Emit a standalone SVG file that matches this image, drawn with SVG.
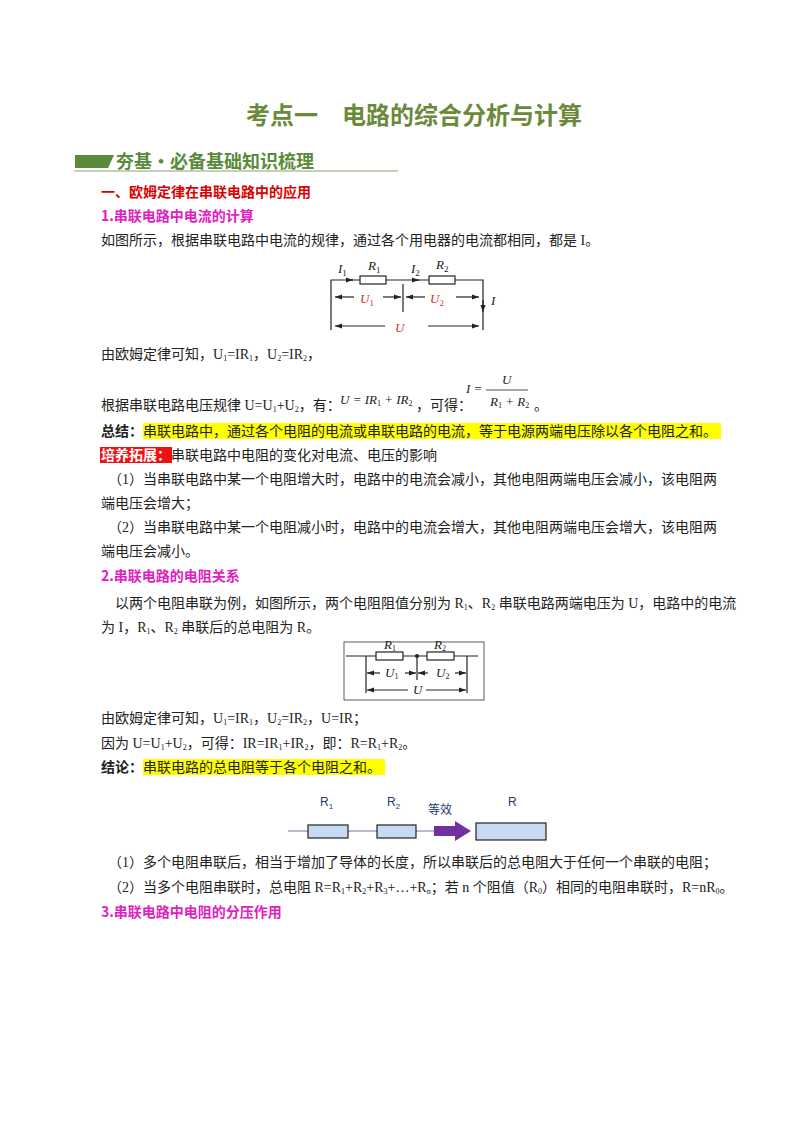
<svg xmlns="http://www.w3.org/2000/svg" width="800" height="1132" viewBox="0 0 800 1132">
<style>
.b{font-family:"Liberation Serif","Noto Sans CJK SC",serif;font-size:14px;fill:#222}
.h{font-family:"Noto Sans CJK SC",sans-serif;font-weight:bold;font-size:14px}
.i{font-family:"Liberation Serif",serif;font-style:italic;font-size:13px;fill:#222}
.w{stroke:#222;stroke-width:1.2;fill:none}
.s{font-family:"Liberation Sans","Noto Sans CJK SC",sans-serif;font-size:12px;fill:#1f3b73}
</style>
<defs>
<marker id="a" markerWidth="6" markerHeight="6" refX="6" refY="3" orient="auto"><path d="M0,0.8L6,3L0,5.2z" fill="#222"/></marker>
</defs>
<rect width="800" height="1132" fill="#fff"/>
<text x="414" y="124" text-anchor="middle" font-family="Noto Sans CJK SC,sans-serif" font-weight="bold" font-size="24" fill="#6a8a3a">考点一　电路的综合分析与计算</text>
<path d="M75,168L108,168L114,155L75,155z" fill="#5a8a3a"/>
<text x="116" y="168" font-family="Noto Sans CJK SC,serif" font-weight="bold" font-size="18" fill="#5a8a3a">夯基·必备基础知识梳理</text>
<line x1="74" y1="171" x2="398" y2="171" stroke="#8aa070" stroke-width="1"/>
<text x="101" y="197" class="h" fill="#d00">一、欧姆定律在串联电路中的应用</text>
<text x="101" y="221" class="h" fill="#e020c0">1.串联电路中电流的计算</text>
<text x="101" y="245" class="b">如图所示，根据串联电路中电流的规律，通过各个用电器的电流都相同，都是 I。</text>
<g id="circuit1">
<path class="w" d="M331,330V280H360M386,280H429M455,280H483V330"/>
<rect x="360" y="276" width="26" height="8" class="w"/>
<rect x="429" y="276" width="26" height="8" class="w"/>
<line x1="403" y1="284" x2="403" y2="312" class="w"/>
<g class="w" marker-end="url(#a)"><line x1="354" y1="297" x2="335" y2="297"/><line x1="383" y1="297" x2="401" y2="297"/><line x1="425" y1="297" x2="406" y2="297"/><line x1="456" y1="297" x2="479" y2="297"/><line x1="385" y1="326" x2="335" y2="326"/><line x1="428" y1="326" x2="479" y2="326"/><line x1="350" y1="280" x2="353" y2="280"/><line x1="416" y1="280" x2="419" y2="280"/><line x1="483" y1="300" x2="483" y2="312"/></g>
<text x="338" y="273" class="i">I<tspan font-size="9" dy="3" font-style="normal">1</tspan></text>
<text x="368" y="270" class="i">R<tspan font-size="9" dy="3" font-style="normal">1</tspan></text>
<text x="411" y="273" class="i">I<tspan font-size="9" dy="3" font-style="normal">2</tspan></text>
<text x="436" y="269" class="i">R<tspan font-size="9" dy="3" font-style="normal">2</tspan></text>
<text x="360" y="303" class="i" style="fill:#d03030" font-size="15">U<tspan font-size="9" dy="3" font-style="normal">1</tspan></text>
<text x="430" y="303" class="i" style="fill:#d03030" font-size="15">U<tspan font-size="9" dy="3" font-style="normal">2</tspan></text>
<text x="491" y="305" class="i" font-size="14">I</text>
<text x="395" y="332" class="i" style="fill:#d03030" font-size="15">U</text>
</g>
<text x="101" y="359" class="b">由欧姆定律可知，U<tspan font-size="8" dy="2">1</tspan><tspan dy="-2">=IR</tspan><tspan font-size="8" dy="2">1</tspan><tspan dy="-2">，U</tspan><tspan font-size="8" dy="2">2</tspan><tspan dy="-2">=IR</tspan><tspan font-size="8" dy="2">2</tspan><tspan dy="-2">，</tspan></text>
<text x="101" y="410" class="b">根据串联电路电压规律 U=U<tspan font-size="8" dy="2">1</tspan><tspan dy="-2">+U</tspan><tspan font-size="8" dy="2">2</tspan><tspan dy="-2">，有：</tspan></text>
<text x="340" y="404" class="i" font-size="12">U = IR<tspan font-size="8" dy="2" font-style="normal">1</tspan><tspan dy="-2"> + IR</tspan><tspan font-size="8" dy="2" font-style="normal">2</tspan></text>
<text x="416" y="410" class="b">，可得：</text>
<text x="466" y="393" class="i" font-size="12">I =</text>
<line x1="486" y1="390" x2="528" y2="390" stroke="#222" stroke-width="0.8"/>
<text x="502" y="384" class="i" font-size="12">U</text>
<text x="490" y="406" class="i" font-size="12">R<tspan font-size="8" dy="2" font-style="normal">1</tspan><tspan dy="-2"> + R</tspan><tspan font-size="8" dy="2" font-style="normal">2</tspan></text>
<text x="534" y="410" class="b">。</text>
<rect x="143" y="423" width="578" height="16" fill="#ffff00"/>
<text x="101" y="436" class="b"><tspan font-weight="bold">总结：</tspan>串联电路中，通过各个电阻的电流或串联电路的电流，等于电源两端电压除以各个电阻之和。</text>
<rect x="100" y="447" width="72" height="16" fill="#ee1111"/>
<text x="101" y="460" class="b"><tspan fill="#fff" font-weight="bold">培养拓展：</tspan>串联电路中电阻的变化对电流、电压的影响</text>
<text x="108" y="484" class="b">（1）当串联电路中某一个电阻增大时，电路中的电流会减小，其他电阻两端电压会减小，该电阻两</text>
<text x="101" y="508" class="b">端电压会增大；</text>
<text x="108" y="532" class="b">（2）当串联电路中某一个电阻减小时，电路中的电流会增大，其他电阻两端电压会增大，该电阻两</text>
<text x="101" y="556" class="b">端电压会减小。</text>
<text x="101" y="581" class="h" fill="#e020c0">2.串联电路的电阻关系</text>
<text x="115" y="608" class="b">以两个电阻串联为例，如图所示，两个电阻阻值分别为 R<tspan font-size="8" dy="2">1</tspan><tspan dy="-2">、R</tspan><tspan font-size="8" dy="2">2</tspan><tspan dy="-2"> 串联电路两端电压为 U，电路中的电流</tspan></text>
<text x="101" y="632" class="b">为 I，R<tspan font-size="8" dy="2">1</tspan><tspan dy="-2">、R</tspan><tspan font-size="8" dy="2">2</tspan><tspan dy="-2"> 串联后的总电阻为 R。</tspan></text>
<g id="circuit2">
<rect x="344" y="642" width="140" height="58" fill="none" stroke="#333" stroke-width="0.8"/>
<path class="w" d="M346,656H376M403,656H427M454,656H478M366,656V693M467,656V693M417,656V680"/>
<rect x="376" y="652" width="27" height="8" class="w"/>
<rect x="427" y="652" width="27" height="8" class="w"/>
<circle cx="417" cy="656" r="2" fill="#222"/>
<g class="w" marker-end="url(#a)"><line x1="380" y1="673" x2="367" y2="673"/><line x1="405" y1="673" x2="416" y2="673"/><line x1="428" y1="673" x2="418" y2="673"/><line x1="455" y1="673" x2="466" y2="673"/><line x1="408" y1="690" x2="367" y2="690"/><line x1="426" y1="690" x2="466" y2="690"/></g>
<text x="384" y="649" class="i" font-size="11">R<tspan font-size="8" dy="2" font-style="normal">1</tspan></text>
<text x="434" y="649" class="i" font-size="11">R<tspan font-size="8" dy="2" font-style="normal">2</tspan></text>
<text x="385" y="677" class="i" font-size="11">U<tspan font-size="8" dy="2" font-style="normal">1</tspan></text>
<text x="436" y="677" class="i" font-size="11">U<tspan font-size="8" dy="2" font-style="normal">2</tspan></text>
<text x="413" y="694" class="i" font-size="11">U</text>
</g>
<text x="101" y="723" class="b">由欧姆定律可知，U<tspan font-size="8" dy="2">1</tspan><tspan dy="-2">=IR</tspan><tspan font-size="8" dy="2">1</tspan><tspan dy="-2">，U</tspan><tspan font-size="8" dy="2">2</tspan><tspan dy="-2">=IR</tspan><tspan font-size="8" dy="2">2</tspan><tspan dy="-2">，U=IR；</tspan></text>
<text x="101" y="748" class="b">因为 U=U<tspan font-size="8" dy="2">1</tspan><tspan dy="-2">+U</tspan><tspan font-size="8" dy="2">2</tspan><tspan dy="-2">，可得：IR=IR</tspan><tspan font-size="8" dy="2">1</tspan><tspan dy="-2">+IR</tspan><tspan font-size="8" dy="2">2</tspan><tspan dy="-2">，即：R=R</tspan><tspan font-size="8" dy="2">1</tspan><tspan dy="-2">+R</tspan><tspan font-size="8" dy="2">2</tspan><tspan dy="-2">。</tspan></text>
<rect x="143" y="759" width="242" height="16" fill="#ffff00"/>
<text x="101" y="772" class="b"><tspan font-weight="bold">结论：</tspan>串联电路的总电阻等于各个电阻之和。</text>
<g id="equiv">
<line x1="288" y1="831" x2="441" y2="831" stroke="#6a7a9a" stroke-width="1"/>
<rect x="308" y="825" width="40" height="13" fill="#c8daf2" stroke="#222" stroke-width="1.2"/>
<rect x="377" y="825" width="39" height="13" fill="#c8daf2" stroke="#222" stroke-width="1.2"/>
<path d="M434,826H455V821L471,831L455,841V836H434z" fill="#7030a0"/>
<rect x="476" y="823" width="70" height="17" fill="#c8daf2" stroke="#222" stroke-width="1.2"/>
<text x="320" y="806" class="s">R<tspan font-size="8" dy="3">1</tspan></text>
<text x="387" y="806" class="s">R<tspan font-size="8" dy="3">2</tspan></text>
<text x="428" y="814" font-family="Noto Sans CJK SC,sans-serif" font-size="12" fill="#1f3b73">等效</text>
<text x="508" y="806" class="s">R</text>
</g>
<text x="108" y="867" class="b">（1）多个电阻串联后，相当于增加了导体的长度，所以串联后的总电阻大于任何一个串联的电阻；</text>
<text x="108" y="892" class="b">（2）当多个电阻串联时，总电阻 R=R<tspan font-size="8" dy="2">1</tspan><tspan dy="-2">+R</tspan><tspan font-size="8" dy="2">2</tspan><tspan dy="-2">+R</tspan><tspan font-size="8" dy="2">3</tspan><tspan dy="-2">+…+R</tspan><tspan font-size="8" dy="2">n</tspan><tspan dy="-2">；若 n 个阻值（R</tspan><tspan font-size="8" dy="2">0</tspan><tspan dy="-2">）相同的电阻串联时，R=nR</tspan><tspan font-size="8" dy="2">0</tspan><tspan dy="-2">。</tspan></text>
<text x="101" y="917" class="h" fill="#e020c0">3.串联电路中电阻的分压作用</text>
</svg>
